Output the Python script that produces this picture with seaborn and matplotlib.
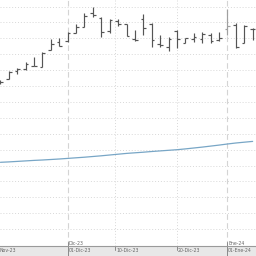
import matplotlib
matplotlib.use("Agg")
import matplotlib.pyplot as plt
import seaborn as sns
import pandas as pd
import numpy as np
from matplotlib.ticker import MultipleLocator

# ---- data (price units) ----
bar_idx = list(range(31))
opens  = [163,166,174,176,179,178,195,203,204,212,218,232,227,214,224,221,206,226,221,201,198,214,202,206,206,210,205,216,220,202,216]
highs  = [165,174,177,183,188,193,206,207,213,221,232,238,228,226,226,221,215,231,222,210,208,215,207,212,213,212,213,236,222,220,217]
lows   = [161,166,171,175,179,178,195,199,203,212,218,228,208,212,219,209,204,210,198,198,194,197,202,203,202,202,204,210,197,202,205]
closes = [163,173,176,181,179,192,201,199,212,218,229,230,213,225,221,209,205,217,205,200,206,206,207,208,211,204,207,219,198,219,216]
ma     = [82.7,83.1,83.6,84.1,84.6,85.0,85.5,86.0,86.6,87.2,87.8,88.5,89.2,90.0,90.8,91.6,92.2,92.8,93.5,94.1,94.7,95.3,96.1,97.0,97.9,98.9,99.9,101.0,102.0,102.8,103.6]

month_pos = [8, 27]
month_labels = ["Dic-23", "Ene-24"]
day_pos = [8, 13.67, 21, 27]
day_labels = ["01-Dic-23", "10-Dic-23", "20-Dic-23", "01-Ene-24"]
prev_label = "Nov-23"

df = pd.DataFrame({"i": bar_idx, "o": opens, "h": highs, "l": lows, "c": closes, "ma": ma})

sns.set_style("white")
fig = plt.figure(figsize=(2.56, 2.56), dpi=100)
fig.patch.set_facecolor("#e8e8e8")
ax = fig.add_axes([0, 10/256, 1, 246/256])
ax.set_facecolor("white")

XL = (-0.05, 30.4)
ax.set_xlim(*XL)
ax.set_ylim(-1, 245)

# grid
for yv in np.arange(0, 245, 15.9)[1:]:
    ax.axhline(yv, color="#d8d8d8", lw=0.7, ls=(0, (1, 2)), zorder=0)
for p in day_pos:
    if p in month_pos:
        ax.axvline(p, color="#d4d4d4", lw=0.8, ls=(0, (5, 3)), zorder=0)
    else:
        ax.axvline(p, color="#d8d8d8", lw=0.7, ls=(0, (1, 2)), zorder=0)

# OHLC bars
w = 0.32
cols = ["#a0a0a0" if i == 27 else "#555555" for i in df["i"]]
ax.vlines(df["i"], df["l"], df["h"], colors=cols, lw=0.85, zorder=3)
ax.hlines(df["o"], df["i"] - w, df["i"], colors=cols, lw=0.85, zorder=3)
ax.hlines(df["c"], df["i"], df["i"] + w, colors=cols, lw=0.85, zorder=3)

# moving average
sns.lineplot(data=df, x="i", y="ma", ax=ax, color="#78a6c6", lw=0.9, zorder=2)
ax.set_xlim(*XL)
ax.set_ylim(-1, 245)

ax.set_xticks([]); ax.set_yticks([])
ax.set_xlabel(""); ax.set_ylabel("")
for s in ["top", "left", "right"]:
    ax.spines[s].set_visible(False)
ax.spines["bottom"].set_color("#9a9a9a")
ax.spines["bottom"].set_linewidth(0.8)

# axis labels
fs = 3.3
tc = "#666666"
trans = ax.get_xaxis_transform()
for p, lab in zip(day_pos, day_labels):
    ax.text(p + 0.08, -0.02, lab, transform=trans, fontsize=fs, color=tc, ha="left", va="center", clip_on=False)
    if p in month_pos:
        ax.plot([p, p], [-0.045, 0.018], transform=trans, color="#8a8a8a", lw=0.7, clip_on=False)
    else:
        ax.plot([p, p], [-0.018, 0.0], transform=trans, color="#8a8a8a", lw=0.7, clip_on=False)
for p, lab in zip(month_pos, month_labels):
    ax.text(p + 0.08, 0.011, lab, transform=trans, fontsize=fs, color=tc, ha="left", va="center", clip_on=False)
ax.text(0.0, -0.02, prev_label, transform=ax.transAxes, fontsize=fs, color=tc, ha="left", va="center", clip_on=False)

fig.savefig("out.png", dpi=100, facecolor=fig.get_facecolor())
